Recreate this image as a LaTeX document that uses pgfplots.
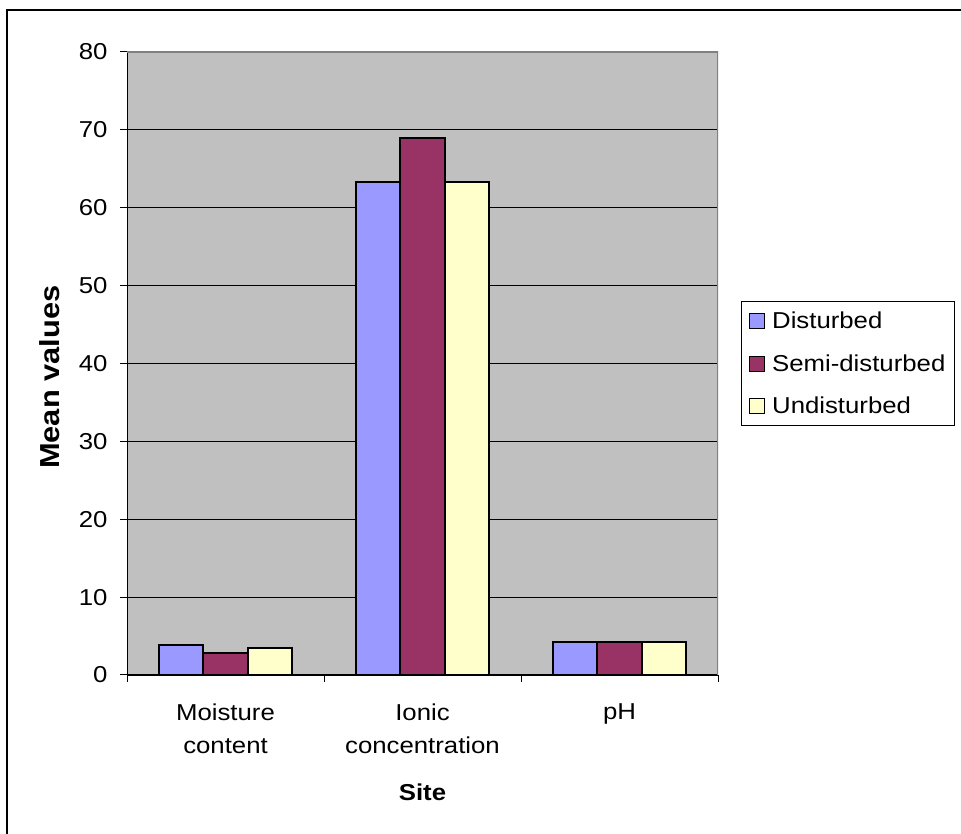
\documentclass[border=0pt]{standalone}
\usepackage{pgfplots}
\pgfplotsset{compat=1.18}
\usepackage{fontspec}
\setmainfont{Liberation Sans}[FakeStretch=1.12]
\definecolor{cblue}{HTML}{9999FF}
\definecolor{cpurp}{HTML}{993366}
\definecolor{cyel}{HTML}{FFFFCC}
\definecolor{cgrey}{HTML}{C0C0C0}
\definecolor{cborder}{HTML}{808080}
\begin{document}
\begin{tikzpicture}[x=1pt,y=1pt]
\clip (0,0) rectangle (961,834);
\draw[line width=2.5pt] (7,-20) rectangle (990,824);
\begin{axis}[
  at={(127pt,159pt)}, anchor=south west,
  scale only axis, width=591pt, height=623pt,
  ybar=0pt, bar width=0.224,
  xmin=0.5, xmax=3.5, ymin=0, ymax=80,
  ytick={0,10,...,80},
  xtick={1,2,3},
  xticklabels={{Moisture\\content},{Ionic\\concentration},{pH}},
  minor xtick={0.5,1.5,2.5,3.5},
  tick align=outside,
  major tick length=7pt, minor tick length=7pt,
  major x tick style={draw=none},
  minor x tick style={black, line width=1pt},
  y tick style={black, line width=1pt},
  axis x line*=bottom, axis y line*=left,
  axis background/.style={fill=cgrey},
  axis line style={black, line width=1pt, -},
  ymajorgrids, major grid style={black, line width=0.9pt},
  /pgf/number format/assume math mode=true,
  xticklabel style={align=center, font=\fontsize{23}{33}\selectfont, yshift=-18pt},
  yticklabel style={font=\fontsize{23}{28}\selectfont, xshift=-9pt},
  ylabel={Mean values},
  ylabel style={at={(axis description cs:-0.130,0.478)}, anchor=center, font=\bfseries\fontsize{27.5}{30}\selectfont},
  xlabel={Site},
  xlabel style={at={(axis description cs:0.5,-0.189)}, anchor=center, font=\bfseries\fontsize{23}{26}\selectfont},
  legend cell align=left,
  legend style={at={(rel axis cs:1.039,0.600)}, anchor=north west, draw=black, line width=1.2pt, fill=white,
    font=\fontsize{23}{28}\selectfont, row sep=20.5pt, inner ysep=8pt, inner xsep=7pt},
  legend image code/.code={\draw[#1, line width=1pt] (0pt,-7.5pt) rectangle (15pt,7.5pt); \path (20pt,0pt);},
]
\addplot[fill=cblue, draw=black, line width=2pt] coordinates {(1,3.8) (2,63.3) (3,4.3)};
\addplot[fill=cpurp, draw=black, line width=2pt] coordinates {(1,2.8) (2,68.9) (3,4.3)};
\addplot[fill=cyel, draw=black, line width=2pt] coordinates {(1,3.5) (2,63.3) (3,4.3)};
\legend{Disturbed,Semi-disturbed,Undisturbed}
\draw[cborder, line width=2pt] (rel axis cs:0,1) -- (rel axis cs:1,1) -- (rel axis cs:1,0);
\end{axis}
\end{tikzpicture}
\end{document}
